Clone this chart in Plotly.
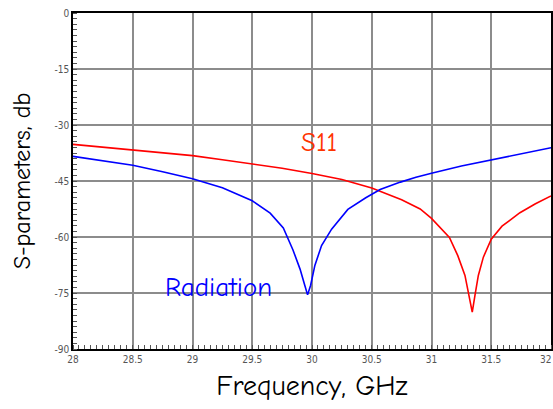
import plotly.graph_objects as go

# Radiation (blue)
rad_freq = [28.0, 28.25, 28.5, 28.75, 29.0, 29.25, 29.5, 29.65, 29.76, 29.84, 29.9, 29.94,
            29.963, 29.988, 30.024, 30.08, 30.164, 30.3, 30.45, 30.57, 30.74, 30.87, 31.0,
            31.25, 31.5, 31.75, 32.0]
rad_db = [-38.4, -39.5, -40.8, -42.5, -44.4, -46.8, -50.3, -53.6, -57.6, -63.4, -68.6, -73.0,
          -75.5, -73.0, -67.6, -62.3, -57.9, -52.6, -49.5, -47.3, -45.3, -44.0, -42.9,
          -41.0, -39.3, -37.7, -36.1]

# S11 (red)
s11_freq = [28.0, 28.25, 28.5, 28.75, 29.0, 29.25, 29.5, 29.75, 30.0, 30.25, 30.5, 30.75,
            30.905, 31.0, 31.15, 31.22, 31.28, 31.316, 31.341, 31.364, 31.392, 31.434,
            31.5, 31.59, 31.74, 31.87, 32.0]
s11_db = [-35.2, -35.9, -36.6, -37.4, -38.2, -39.3, -40.4, -41.6, -43.0, -44.6, -46.9, -50.0,
          -52.5, -55.0, -60.1, -65.0, -70.3, -75.6, -80.1, -75.6, -70.3, -65.4,
          -60.6, -57.1, -53.5, -51.1, -49.0]

x_ticks = [28, 28.5, 29, 29.5, 30, 30.5, 31, 31.5, 32]
x_tick_text = ["28", "28.5", "29", "29.5", "30", "30.5", "31", "31.5", "32"]
y_ticks = [0, -15, -30, -45, -60, -75, -90]
y_tick_text = ["0", "-15", "-30", "-45", "-60", "-75", "-90"]

FONT = "Comic Sans MS, Comic Neue, Noto Sans, DejaVu Sans, sans-serif"
TICKFONT = dict(family="DejaVu Sans Condensed, DejaVu Sans", size=10, color="#555555")

fig = go.Figure()
fig.add_trace(go.Scatter(x=s11_freq, y=s11_db, mode="lines", name="S11",
                         line=dict(color="#ff0000", width=1.6)))
fig.add_trace(go.Scatter(x=rad_freq, y=rad_db, mode="lines", name="Radiation",
                         line=dict(color="#0000ff", width=1.6)))

fig.add_annotation(x=30.06, y=-34.6, text="S11", showarrow=False,
                   font=dict(family=FONT, size=27, color="#ff3300"))
fig.add_annotation(x=29.22, y=-73.5, text="Radiation", showarrow=False,
                   font=dict(family=FONT, size=27, color="#0000ff"))
# last x tick label sits at the right edge: draw it right-aligned so it stays visible
fig.add_annotation(x=x_ticks[-1], xref="x", y=0, yref="paper", text=x_tick_text[-1],
                   showarrow=False, xanchor="right", yanchor="top", xshift=2, yshift=-3,
                   font=TICKFONT)

axis_common = dict(showline=True, linecolor="#000000", linewidth=1.5, mirror=True,
                   showgrid=True, gridcolor="#8c8c8c", gridwidth=1.5, zeroline=False,
                   tickfont=TICKFONT, ticks="", automargin=False, ticklabeloverflow="allow")

fig.update_layout(
    width=553, height=409,
    margin=dict(l=73, r=2, t=13, b=60),
    paper_bgcolor="white", plot_bgcolor="white",
    showlegend=False,
    xaxis=dict(range=[28, 32], tickvals=x_ticks[:-1], ticktext=x_tick_text[:-1],
               title=dict(text="Frequency, GHz", font=dict(family=FONT, size=28, color="black"),
                          standoff=12),
               minor=dict(dtick=0.05, tick0=28, ticks="inside", ticklen=4, tickcolor="#555555",
                          showgrid=False),
               **axis_common),
    yaxis=dict(range=[-90, 0], tickvals=y_ticks, ticktext=y_tick_text,
               title=dict(text="S-parameters, db", font=dict(family=FONT, size=24, color="black"),
                          standoff=17),
               minor=dict(dtick=1.5, tick0=0, ticks="inside", ticklen=4, tickcolor="#555555",
                          showgrid=False),
               **axis_common),
)

fig.write_html("out.html", config={"displayModeBar": False},
               post_script="document.body.style.margin='0';document.body.style.overflow='hidden';")
